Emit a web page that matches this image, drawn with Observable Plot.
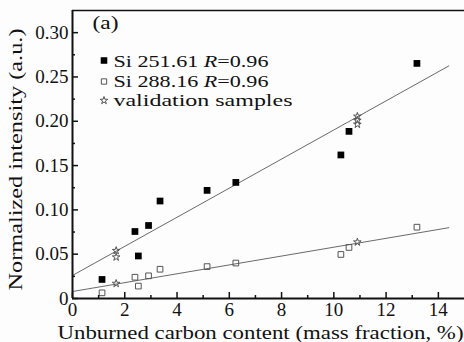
<!DOCTYPE html>
<html><head><meta charset="utf-8">
<script src="https://cdn.jsdelivr.net/npm/d3@7"></script>
<script src="https://cdn.jsdelivr.net/npm/@observablehq/plot@0.6"></script>
<style>
body{margin:0;background:#fff;}
#chart{width:464px;height:342px;}
#chart svg, #chart svg text{font-family:"Liberation Serif","Times New Roman",serif;}
</style></head><body><div id="chart"></div>
<script>
// Data
const carbon = [1.13, 2.39, 2.52, 2.91, 3.35, 5.15, 6.25, 10.27, 10.58, 13.18];
const si251 = [0.0215, 0.0756, 0.048, 0.0824, 0.110, 0.122, 0.131, 0.162, 0.1886, 0.2653];
const si288 = [0.0064, 0.024, 0.014, 0.0256, 0.033, 0.036, 0.040, 0.0497, 0.0576, 0.0805];
const valCarbon = [1.67, 1.67, 1.67, 10.9, 10.9, 10.9, 10.9];
const valIntensity = [0.054, 0.0467, 0.0169, 0.2055, 0.201, 0.1965, 0.0636];
const fitIntercepts = [0.026, 0.0079];
const fitSlopes = [0.01642, 0.0050];
const fitRange = [0, 14.4];
const xTicks = [0, 2, 4, 6, 8, 10, 12, 14];
const xMinor = [1, 3, 5, 7, 9, 11, 13];
const yTicks = [0, 0.05, 0.10, 0.15, 0.20, 0.25, 0.30];
const yTickLabels = ["0", "0.05", "0.10", "0.15", "0.20", "0.25", "0.30"];
const yMinor = [0.025, 0.075, 0.125, 0.175, 0.225, 0.275];
const legendLabels = ["Si 251.61 R=0.96", "Si 288.16 R=0.96", "validation samples"];
const legendSymbols = ["square", "square", "star"];
const panelLabel = "(a)";
const xLabel = "Unburned carbon content (mass fraction, %)";
const yLabel = "Normalized intensity (a.u.)";

const xDomain = [0, 15];
const yDomain = [0, 0.325];

// styling constants (pixels)
const ink = "#111";
const legendOffsets = [{sy: 50, ty: 56}, {sy: 71, ty: 76}, {sy: 90, ty: 95}];
const legendStyle = [
  {fill: "#000", stroke: "none", r: 3.7},
  {fill: "none", stroke: "#555", r: 3.0},
  {fill: "none", stroke: "#555", r: 2.4}
];
const stretch = new Map([
  [xLabel, 406], [yLabel, 262], [legendLabels[0], 155], [legendLabels[1], 155],
  [legendLabels[2], 179], [panelLabel, 26]
]);

const pts251 = carbon.map((c, i) => ({x: c, y: si251[i]}));
const pts288 = carbon.map((c, i) => ({x: c, y: si288[i]}));
const val = valCarbon.map((c, i) => ({x: c, y: valIntensity[i]}));
const fitLines = fitIntercepts.map((b, k) => fitRange.map(x => ({x, y: b + fitSlopes[k] * x, k})));

const legendMarks = legendLabels.flatMap((t, i) => [
  Plot.dot([t], {frameAnchor: "top-left", dx: 31.5, dy: legendOffsets[i].sy, symbol: legendSymbols[i],
    r: legendStyle[i].r, fill: legendStyle[i].fill, stroke: legendStyle[i].stroke, strokeWidth: 1}),
  Plot.text([t], {frameAnchor: "top-left", text: d => d, dx: 41, dy: legendOffsets[i].ty,
    textAnchor: "start", lineAnchor: "bottom", fontSize: 17, fill: ink})
]);

const chart = Plot.plot({
  width: 464, height: 342,
  marginLeft: 72, marginRight: 0, marginTop: 10, marginBottom: 44,
  style: {fontSize: "19px", background: "#fdfdfd", color: ink},
  x: {domain: xDomain},
  y: {domain: yDomain},
  marks: [
    // fit lines
    ...fitLines.map(l => Plot.line(l, {x: "x", y: "y", stroke: "#6a6a6a", strokeWidth: 1})),
    // points
    Plot.dot(pts251, {x: "x", y: "y", symbol: "square", r: 3.8, fill: "#000", stroke: "none"}),
    Plot.dot(pts288, {x: "x", y: "y", symbol: "square", r: 3.2, fill: "none", stroke: "#555", strokeWidth: 1}),
    Plot.dot(val, {x: "x", y: "y", symbol: "star", r: 2.4, fill: "none", stroke: "#555", strokeWidth: 1}),
    // axis ticks (inward)
    Plot.axisX({ticks: xTicks, tickSize: -6, text: null, label: null, stroke: ink, strokeWidth: 1.5}),
    Plot.axisX({ticks: xMinor, tickSize: -3, text: null, label: null, stroke: ink, strokeWidth: 1.5}),
    Plot.axisY({ticks: yTicks, tickSize: -6, text: null, label: null, stroke: ink, strokeWidth: 1.5}),
    Plot.axisY({ticks: yMinor, tickSize: -3, text: null, label: null, stroke: ink, strokeWidth: 1.5}),
    // tick labels
    Plot.axisX({ticks: xTicks, tickSize: 0, tickPadding: 4, tickFormat: d => String(d), label: null, fontSize: 19, fill: ink}),
    Plot.axisY({ticks: yTicks, tickSize: 0, tickPadding: 4, tickFormat: (d, i) => yTickLabels[i], label: null, fontSize: 19, fill: ink}),
    // frame lines
    Plot.ruleY([yDomain[0]], {stroke: ink, strokeWidth: 2}),
    Plot.ruleY([yDomain[1]], {stroke: ink, strokeWidth: 1.5}),
    Plot.ruleX([xDomain[0]], {stroke: ink, strokeWidth: 2}),
    // axis labels
    Plot.text([xLabel], {frameAnchor: "bottom", text: d => d, dx: -8, dy: 40, lineAnchor: "bottom", textAnchor: "middle", fontSize: 19, fill: ink}),
    Plot.text([yLabel], {frameAnchor: "left", text: d => d, rotate: -90, dx: -51, dy: 5, lineAnchor: "bottom", textAnchor: "middle", fontSize: 18, fill: ink}),
    // panel label
    Plot.text([panelLabel], {frameAnchor: "top-left", text: d => d, dx: 20, dy: 18, lineAnchor: "bottom", fontSize: 19, fill: ink, textAnchor: "start"}),
    // legend
    ...legendMarks
  ]
});
document.getElementById("chart").appendChild(chart);

// stretch wide serif texts and italicise R
d3.select(chart).selectAll("text").each(function () {
  const t = this.textContent;
  if (!stretch.has(t)) return;
  const el = d3.select(this);
  if (t.includes(" R=")) {
    const [a, b] = t.split("R=");
    el.text(null);
    el.append("tspan").text(a);
    el.append("tspan").attr("font-style", "italic").text("R");
    el.append("tspan").text("=" + b);
  }
  el.attr("textLength", stretch.get(t)).attr("lengthAdjust", "spacingAndGlyphs");
});
</script></body></html>
